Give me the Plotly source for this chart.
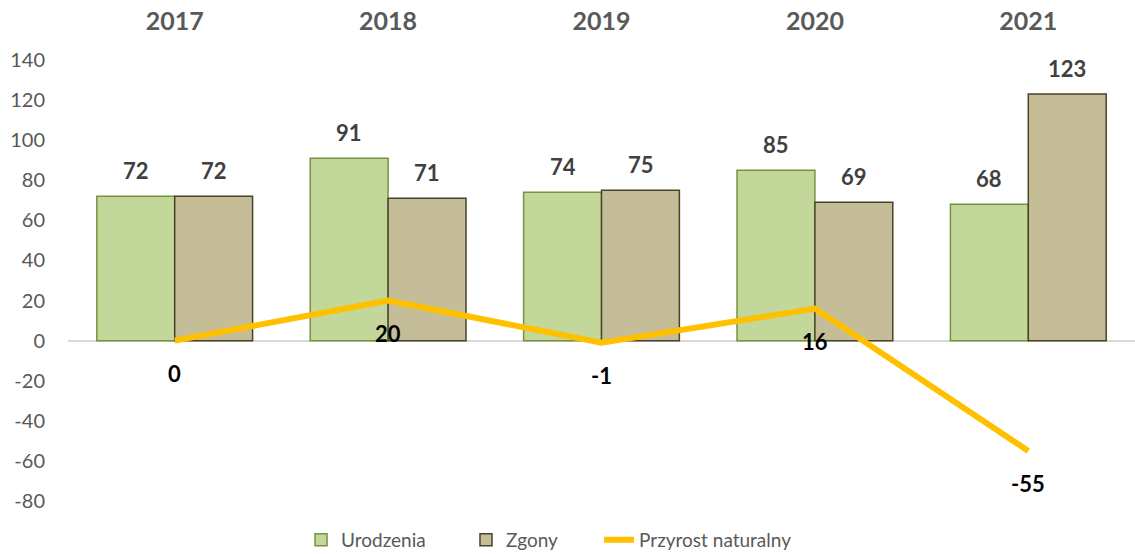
import plotly.graph_objects as go

years = ["2017", "2018", "2019", "2020", "2021"]
urodzenia = [72, 91, 74, 85, 68]
zgony = [72, 71, 75, 69, 123]
przyrost = [0, 20, -1, 16, -55]
y_ticks = [-80, -60, -40, -20, 0, 20, 40, 60, 80, 100, 120, 140]

FONT = "Lato"
GREY = "#595959"

fig = go.Figure()
fig.add_trace(go.Bar(
    x=years, y=urodzenia, name="Urodzenia", legend="legend",
    marker=dict(color="#C4D79B", line=dict(color="#77933C", width=1.5)),
))
fig.add_trace(go.Bar(
    x=years, y=zgony, name="Zgony", legend="legend2",
    marker=dict(color="#C4BD97", line=dict(color="#494429", width=1.5)),
))
fig.add_trace(go.Scatter(
    x=years, y=przyrost, name="Przyrost naturalny", mode="lines", legend="legend3",
    line=dict(color="#FFC000", width=6),
))

annotations = []
for i, yr in enumerate(years):
    annotations.append(dict(x=i, y=urodzenia[i], xref="x", yref="y", text=str(urodzenia[i]),
                            showarrow=False, xshift=-39, yshift=26,
                            font=dict(family=FONT, size=22, color="#404040", weight="bold")))
    annotations.append(dict(x=i, y=zgony[i], xref="x", yref="y", text=str(zgony[i]),
                            showarrow=False, xshift=39, yshift=26,
                            font=dict(family=FONT, size=22, color="#404040", weight="bold")))
    annotations.append(dict(x=i, y=przyrost[i], xref="x", yref="y", text=str(przyrost[i]),
                            showarrow=False, yshift=-33,
                            font=dict(family=FONT, size=22, color="#000000", weight="bold")))

legend_base = dict(orientation="h", xanchor="left", y=-0.045, yanchor="top",
                   font=dict(family=FONT, size=19, color=GREY), bgcolor="rgba(0,0,0,0)")

fig.update_layout(
    width=1135, height=554,
    margin=dict(l=68, r=0, t=60, b=53, autoexpand=False),
    paper_bgcolor="white", plot_bgcolor="white",
    barmode="group", bargap=0.27, bargroupgap=0,
    font=dict(family=FONT, color=GREY),
    showlegend=True,
    legend=dict(legend_base, x=0.2184),
    legend2=dict(legend_base, x=0.373),
    legend3=dict(legend_base, x=0.4977),
    annotations=annotations,
    xaxis=dict(type="category", range=[-0.5, 4.5], side="top", showgrid=False,
               showline=False, ticks="", automargin=False,
               tickfont=dict(family=FONT, size=25, color=GREY, weight="bold"),
               ticklabelstandoff=24, fixedrange=True),
    yaxis=dict(range=[-80, 140], tickvals=y_ticks, ticktext=[str(v) for v in y_ticks],
               showgrid=False, showline=False, automargin=False,
               zeroline=True, zerolinecolor="#D9D9D9", zerolinewidth=2,
               tickfont=dict(family=FONT, size=20, color=GREY), ticks="",
               ticklabelstandoff=22),
)

fig.write_html("out.html", config={"displayModeBar": False},
               post_script="document.body.style.margin='0';document.body.style.overflow='hidden';")
